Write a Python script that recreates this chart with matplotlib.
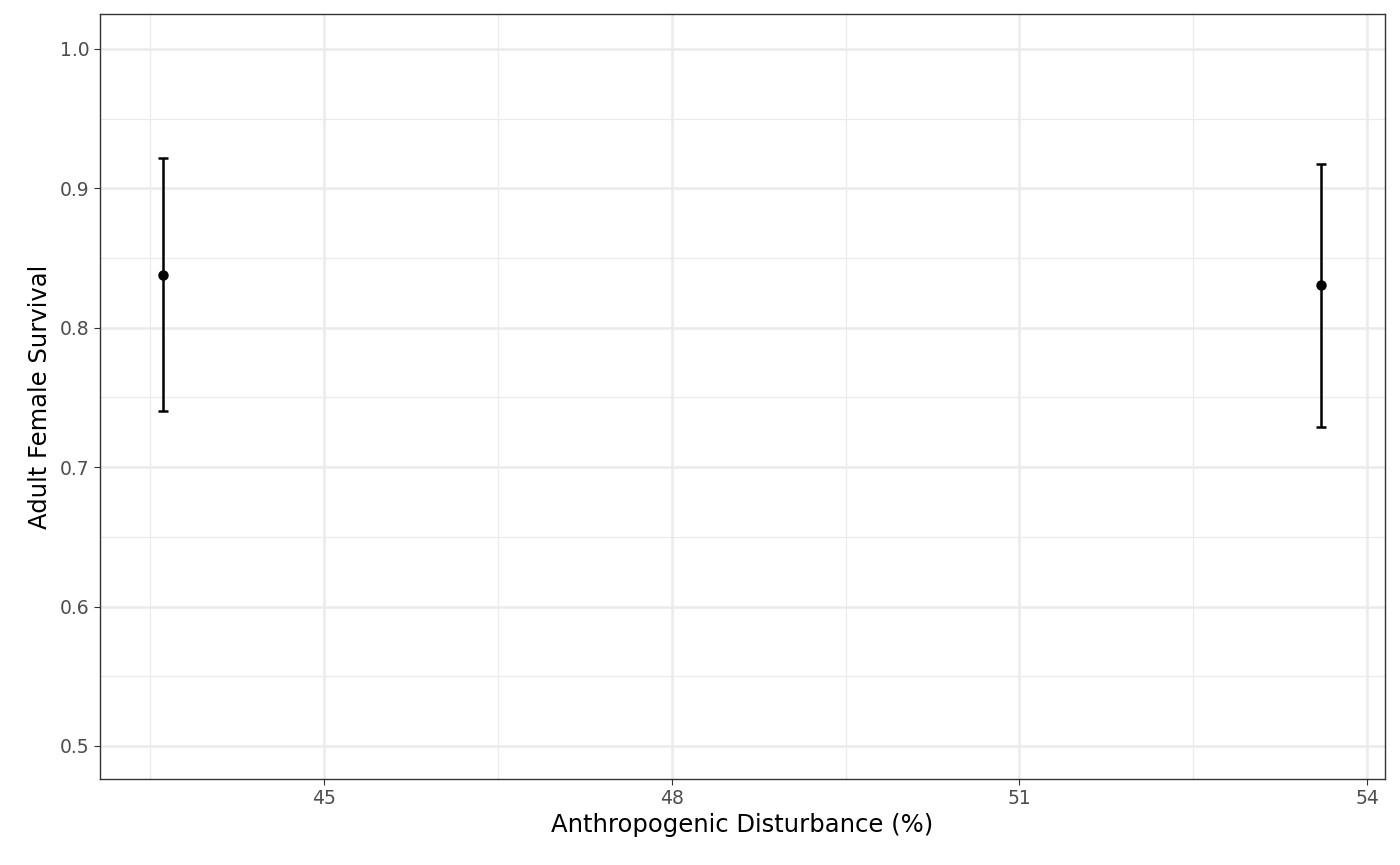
import matplotlib
matplotlib.use("Agg")
import matplotlib.pyplot as plt
import numpy as np

disturbance = [43.61, 53.60]
survival = [0.838, 0.831]
lower = [0.740, 0.729]
upper = [0.922, 0.9175]

fig = plt.figure(figsize=(14, 8.65), dpi=100)
ax = fig.add_axes([100 / 1400, 1 - 779 / 865, 1285 / 1400, 765 / 865])

x = np.array(disturbance)
y = np.array(survival)
yerr = [y - np.array(lower), np.array(upper) - y]
ax.errorbar(x, y, yerr=yerr, fmt="o", color="black", ms=6.5, elinewidth=1.8,
            capsize=3.5, capthick=1.8, zorder=3)

ax.set_xlim(43.067, 54.155)
ax.set_ylim(0.4763, 1.0251)
ax.set_xticks([45, 48, 51, 54])
ax.set_xticks([43.5, 46.5, 49.5, 52.5], minor=True)
ax.set_yticks([0.5, 0.6, 0.7, 0.8, 0.9, 1.0])
ax.set_yticks([0.55, 0.65, 0.75, 0.85, 0.95], minor=True)
ax.set_yticklabels(["0.5", "0.6", "0.7", "0.8", "0.9", "1.0"])
ax.grid(which="major", color="#ebebeb", lw=1.8)
ax.grid(which="minor", color="#ebebeb", lw=0.9)
ax.set_axisbelow(True)
for s in ax.spines.values():
    s.set_color("#333333")
    s.set_linewidth(1)
ax.tick_params(which="major", length=4, color="#333333", labelsize=13.5, labelcolor="#4d4d4d")
ax.tick_params(which="minor", length=0)
ax.set_xlabel("Anthropogenic Disturbance (%)", fontsize=17.5, labelpad=3)
ax.set_ylabel("Adult Female Survival", fontsize=17.5, labelpad=6)
fig.savefig("out.png", dpi=100)
